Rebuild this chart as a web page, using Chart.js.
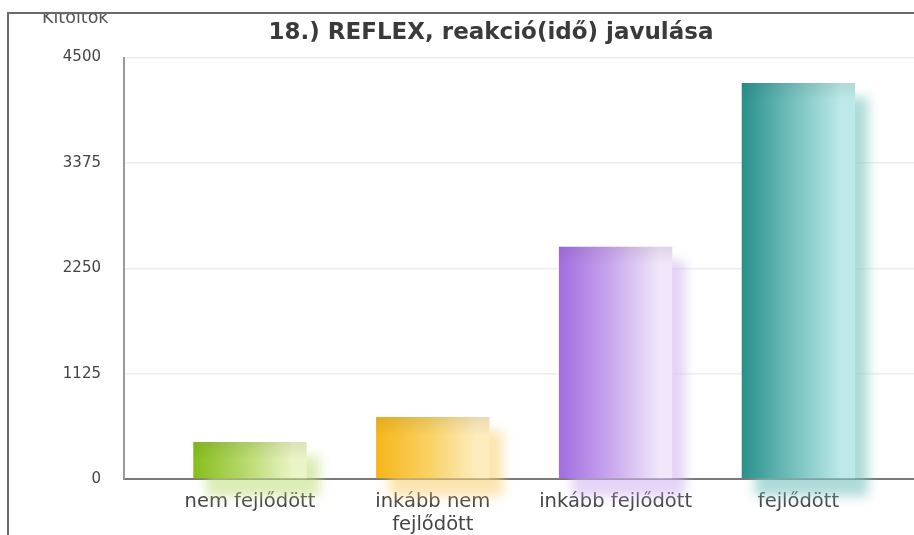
<!DOCTYPE html>
<html>
<head>
<meta charset="utf-8">
<script src="https://cdn.jsdelivr.net/npm/chart.js@4/dist/chart.umd.min.js"></script>
<style>
html,body{margin:0;padding:0;width:914px;height:535px;overflow:hidden;background:#fff;}
#wrap{position:absolute;left:7px;top:12px;border-left:2px solid #6a6a6a;border-top:2px solid #6a6a6a;width:964px;height:521px;}
canvas{display:block;}
</style>
</head>
<body>
<div id="wrap"><canvas id="c" width="964" height="521"></canvas></div>
<script>
// ---- data ----
const chartTitle = "18.) REFLEX, reakció(idő) javulása";
const yAxisTitle = "Kitöltők";
const categories = [["nem fejlődött"], ["inkább nem", "fejlődött"], ["inkább fejlődött"], ["fejlődött"]];
const values = [395, 663, 2480, 4228];
const yTicks = [0, 1125, 2250, 3375, 4500];

// ---- styles ----
const leftColors  = ["#86bd1c", "#f6b518", "#a26ce0", "#27908c"];
const midColors   = ["#b7d96a", "#f9d060", "#c9a6ee", "#74c0bd"];
const rightColors = ["#eaf4c6", "#fdecbc", "#f1e6fa", "#bdeae8"];
const shadowColors = ["rgba(190,220,120,0.55)", "rgba(250,205,110,0.55)", "rgba(205,175,238,0.55)", "rgba(120,195,192,0.6)"];

const barFx = {
  id: 'barFx',
  beforeDatasetsDraw(chart) {
    const ctx = chart.ctx;
    const meta = chart.getDatasetMeta(0);
    meta.data.forEach((el, i) => {
      const w = el.width, l = el.x - w / 2;
      ctx.save();
      ctx.filter = 'blur(6px)';
      ctx.fillStyle = shadowColors[i];
      ctx.fillRect(l + 13, el.y + 14, w, el.base - el.y + 4);
      ctx.restore();
      const g = ctx.createLinearGradient(l, 0, l + w, 0);
      g.addColorStop(0, leftColors[i]);
      g.addColorStop(0.45, midColors[i]);
      g.addColorStop(0.88, rightColors[i]);
      g.addColorStop(1, rightColors[i]);
      el.options.backgroundColor = g;
    });
  },
  afterDatasetsDraw(chart) {
    const ctx = chart.ctx;
    const meta = chart.getDatasetMeta(0);
    meta.data.forEach((el) => {
      const w = el.width, l = el.x - w / 2;
      const g = ctx.createLinearGradient(0, el.y, 0, el.y + 18);
      g.addColorStop(0, 'rgba(60,60,60,0.10)');
      g.addColorStop(1, 'rgba(60,60,60,0)');
      ctx.save();
      ctx.fillStyle = g;
      ctx.fillRect(l, el.y, w, 18);
      ctx.restore();
    });
  },
  afterDraw(chart) {
    const ctx = chart.ctx;
    ctx.save();
    ctx.font = '17.5px "DejaVu Sans"';
    ctx.fillStyle = '#555';
    ctx.textAlign = 'left';
    ctx.textBaseline = 'alphabetic';
    ctx.fillText(yAxisTitle, 33, 9);
    ctx.restore();
  }
};

new Chart(document.getElementById('c'), {
  type: 'bar',
  data: {
    datasets: [{
      data: values.map((v, i) => ({ x: i, y: v })),
      backgroundColor: leftColors,
      borderWidth: 0,
      barPercentage: 0.62,
      categoryPercentage: 1
    }]
  },
  options: {
    responsive: false,
    devicePixelRatio: 1,
    animation: false,
    layout: { padding: { left: 0, right: 0, top: 0, bottom: 0 } },
    plugins: {
      legend: { display: false },
      tooltip: { enabled: false },
      title: {
        display: true,
        text: chartTitle,
        color: '#3a3a3a',
        font: { family: '"DejaVu Sans"', size: 23, weight: 'bold' },
        padding: { top: 5, bottom: 11 }
      }
    },
    scales: {
      x: {
        type: 'linear',
        offset: false,
        bounds: 'data',
        min: -0.689,
        max: 3.955,
        afterBuildTicks: s => { s.ticks = categories.map((c, i) => ({ value: i })); },
        afterFit: s => { s.height = 56; },
        grid: { display: false, drawTicks: false, offset: false },
        border: { color: '#7a7a7a', width: 2 },
        ticks: {
          autoSkip: false, maxRotation: 0,
          padding: 11,
          color: '#444',
          font: { family: '"DejaVu Sans"', size: 19.5 },
          callback: (v) => categories[Math.round(v)]
        }
      },
      y: {
        min: 0, max: 4500,
        afterBuildTicks: s => { s.ticks = yTicks.map(v => ({ value: v })); },
        afterFit: s => { s.width = 115; },
        grid: { color: '#eeeeee', lineWidth: 1.5, drawTicks: false },
        border: { color: '#999', width: 2 },
        ticks: {
          padding: 23,
          color: '#444',
          font: { family: '"DejaVu Sans"', size: 15 },
          callback: (v) => String(v)
        }
      }
    }
  },
  plugins: [barFx]
});
</script>
</body>
</html>
